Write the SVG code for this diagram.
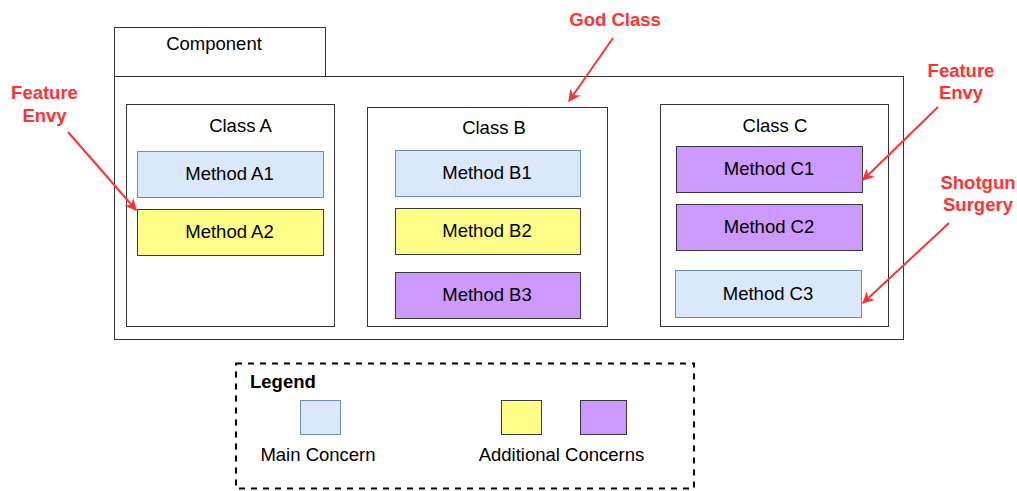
<svg xmlns="http://www.w3.org/2000/svg" width="1017" height="491" viewBox="0 0 1017 491">
  <style>
    text { font-family: "Liberation Sans", Arial, Helvetica, sans-serif; font-size: 18.5px; fill: #000; }
    .c { text-anchor: middle; }
    .smell { fill: #ff3333; font-weight: bold; text-anchor: middle; }
    .frame { fill: #fff; stroke: #333; stroke-width: 1; }
    .main { fill: #dae8fc; stroke: #6c8ebf; stroke-width: 1; }
    .extra { fill: #ffff88; stroke: #36393d; stroke-width: 1; }
    .other { fill: #cc99ff; stroke: #36393d; stroke-width: 1; }
    .arrow { fill: none; stroke: #ff3333; stroke-width: 2; marker-end: url(#head); }
  </style>
  <defs>
    <marker id="head" viewBox="0 0 10 10" refX="9" refY="5" markerWidth="6" markerHeight="6" orient="auto" markerUnits="strokeWidth">
      <path d="M0,0 L10,5 L0,10 L3,5 Z" fill="#ff3333"/>
    </marker>
  </defs>
  <rect width="1017" height="491" fill="#fff"/>

  <!-- component package -->
  <g id="component">
    <rect class="frame" x="114.5" y="27.5" width="211" height="49"/>
    <rect class="frame" x="114.5" y="76.5" width="789" height="263"/>
    <text class="c" x="214" y="50">Component</text>
  </g>

  <!-- class A -->
  <g id="class-a">
    <rect class="frame" x="126.5" y="104.5" width="208" height="222"/>
    <text class="c" x="240.5" y="132">Class A</text>
  </g>
  <g id="method-a1">
    <rect class="main" x="137.5" y="151.5" width="186" height="46"/>
    <text class="c" x="229.5" y="180">Method A1</text>
  </g>
  <g id="method-a2">
    <rect class="extra" x="137.5" y="209.5" width="186" height="46"/>
    <text class="c" x="229.5" y="238">Method A2</text>
  </g>

  <!-- class B -->
  <g id="class-b">
    <rect class="frame" x="367.5" y="107.5" width="240" height="219"/>
    <text class="c" x="494" y="134">Class B</text>
  </g>
  <g id="method-b1">
    <rect class="main" x="395.5" y="150.5" width="185" height="46"/>
    <text class="c" x="487" y="179">Method B1</text>
  </g>
  <g id="method-b2">
    <rect class="extra" x="395.5" y="208.5" width="185" height="46"/>
    <text class="c" x="487" y="237">Method B2</text>
  </g>
  <g id="method-b3">
    <rect class="other" x="395.5" y="272.5" width="185" height="46"/>
    <text class="c" x="487" y="301">Method B3</text>
  </g>

  <!-- class C -->
  <g id="class-c">
    <rect class="frame" x="660.5" y="104.5" width="228" height="222"/>
    <text class="c" x="775" y="132">Class C</text>
  </g>
  <g id="method-c1">
    <rect class="other" x="676.5" y="146.5" width="186" height="46"/>
    <text class="c" x="769" y="175">Method C1</text>
  </g>
  <g id="method-c2">
    <rect class="other" x="676.5" y="204.5" width="186" height="46"/>
    <text class="c" x="769" y="233">Method C2</text>
  </g>
  <g id="method-c3">
    <rect class="main" x="675.5" y="270.5" width="186" height="47"/>
    <text class="c" x="768" y="300">Method C3</text>
  </g>

  <!-- smell labels -->
  <g id="label-feature-envy-a">
    <text class="smell" x="44.5" y="99">Feature</text>
    <text class="smell" x="44.5" y="122">Envy</text>
  </g>
  <g id="label-god-class">
    <text class="smell" x="615" y="26">God Class</text>
  </g>
  <g id="label-feature-envy-c">
    <text class="smell" x="961" y="77">Feature</text>
    <text class="smell" x="961" y="99">Envy</text>
  </g>
  <g id="label-shotgun-surgery">
    <text class="smell" x="978" y="189">Shotgun</text>
    <text class="smell" x="978" y="211">Surgery</text>
  </g>

  <!-- connectors -->
  <g id="connectors">
    <path class="arrow" d="M68,132 L136,210"/>
    <path class="arrow" d="M613,38 L569,101"/>
    <path class="arrow" d="M938,107 L863,180"/>
    <path class="arrow" d="M949,223 L863,303"/>
  </g>

  <!-- legend -->
  <g id="legend">
    <rect x="236" y="363.5" width="458" height="125" fill="none" stroke="#000" stroke-width="2" stroke-dasharray="6,6"/>
    <text x="250" y="388" font-weight="bold">Legend</text>
    <rect class="main" x="300.5" y="400.5" width="40" height="34"/>
    <rect class="extra" x="501.5" y="400.5" width="40" height="34"/>
    <rect class="other" x="580.5" y="400.5" width="46" height="34"/>
    <text class="c" x="318" y="461">Main Concern</text>
    <text class="c" x="561.5" y="461">Additional Concerns</text>
  </g>
</svg>
